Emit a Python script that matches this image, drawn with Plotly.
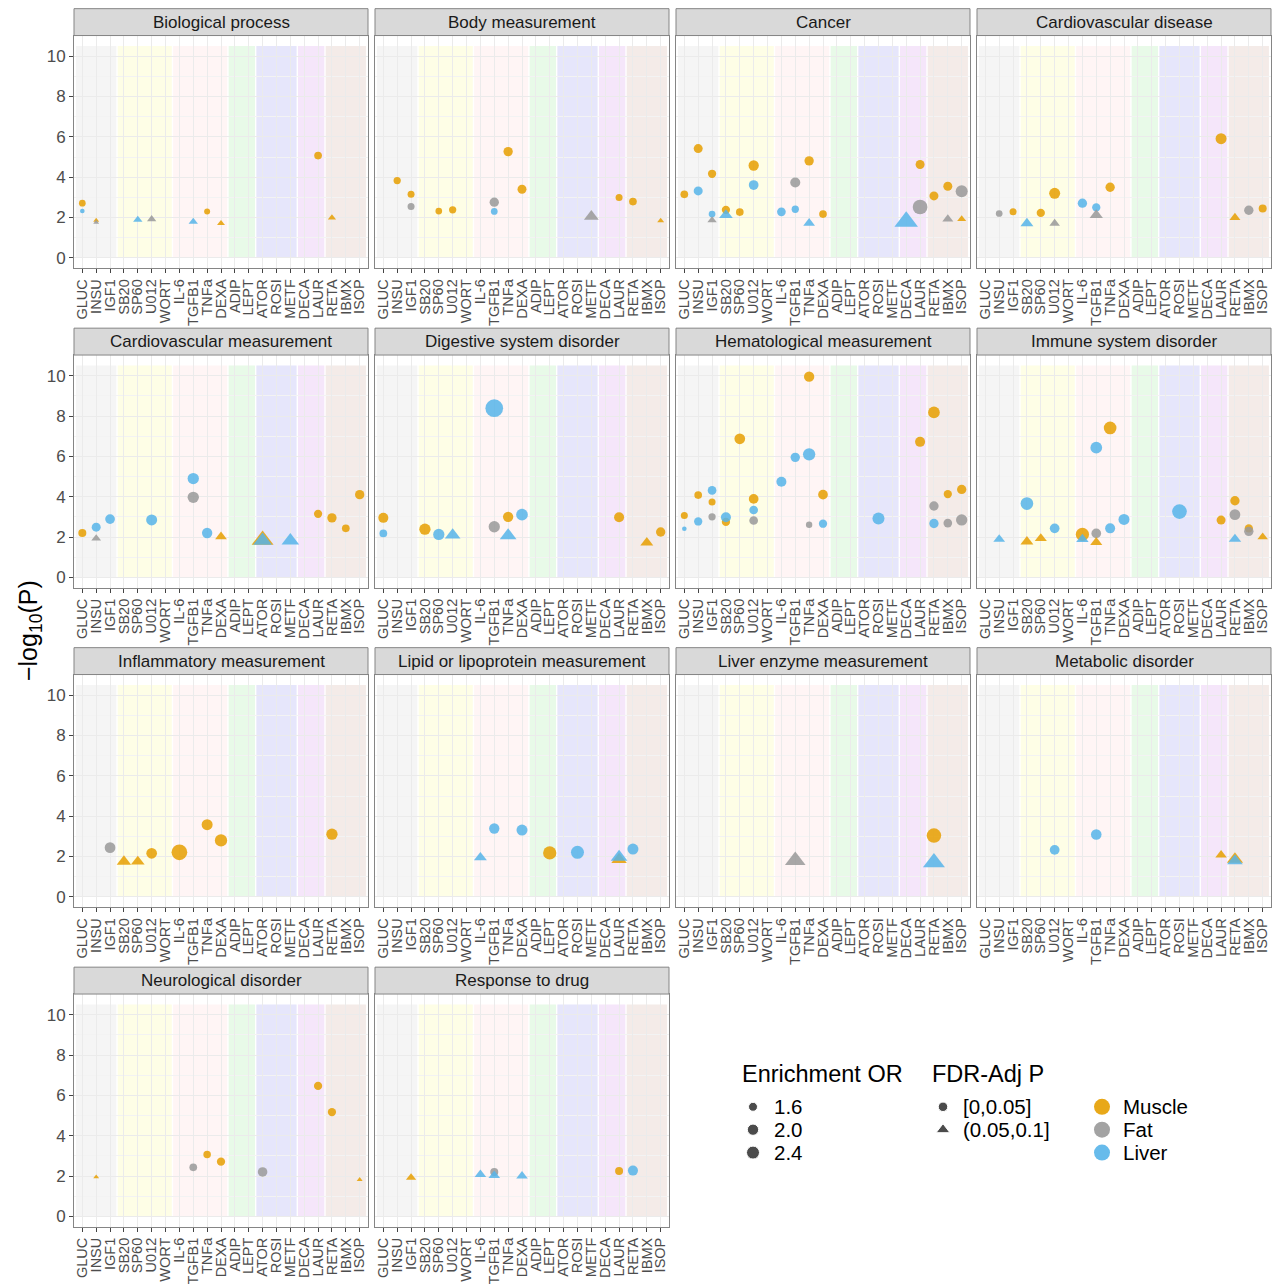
import math
import plotly.graph_objects as go

W, H = 1278, 1284
SIG = "[0,0.05]"
SUG = "(0.05,0.1]"

# ---------------- data ----------------
drugs = ["GLUC", "INSU", "IGF1", "SB20", "SP60", "U012", "WORT", "IL-6", "TGFB1", "TNFa",
         "DEXA", "ADIP", "LEPT", "ATOR", "ROSI", "METF", "DECA", "LAUR", "RETA", "IBMX", "ISOP"]
drug_groups = [("GLUC", "IGF1"), ("SB20", "WORT"), ("IL-6", "DEXA"), ("ADIP", "LEPT"),
               ("ATOR", "METF"), ("DECA", "LAUR"), ("RETA", "ISOP")]
group_fill = ["#f5f5f5", "#fefee6", "#fff5f5", "#e8fae8", "#e6e6fb", "#f5e6fa", "#f4ebe8"]

tissues = ["Muscle", "Fat", "Liver"]
tissue_colors = ["#E69F00", "#999999", "#56B4E9"]
fdr_levels = [SIG, SUG]
fdr_symbols = ["circle", "triangle-up"]
or_legend_values = [1.6, 2.0, 2.4]

panel_titles = ["Biological process", "Body measurement", "Cancer", "Cardiovascular disease",
                "Cardiovascular measurement", "Digestive system disorder", "Hematological measurement",
                "Immune system disorder", "Inflammatory measurement", "Lipid or lipoprotein measurement",
                "Liver enzyme measurement", "Metabolic disorder", "Neurological disorder", "Response to drug"]

# (drug, tissue, -log10(P), enrichment OR, FDR-adjusted P group)
biological_process = [
    ("GLUC", "Muscle", 2.71, 1.37, SIG), ("GLUC", "Liver", 2.32, 1.30, SIG),
    ("INSU", "Muscle", 1.86, 1.30, SUG), ("INSU", "Fat", 1.76, 1.30, SUG),
    ("SP60", "Liver", 1.89, 1.41, SUG), ("U012", "Fat", 1.92, 1.41, SUG),
    ("TGFB1", "Liver", 1.79, 1.41, SUG), ("TNFa", "Muscle", 2.30, 1.33, SIG),
    ("DEXA", "Muscle", 1.71, 1.34, SUG), ("LAUR", "Muscle", 5.07, 1.45, SIG),
    ("RETA", "Muscle", 1.99, 1.35, SUG),
]
body_measurement = [
    ("INSU", "Muscle", 3.83, 1.41, SIG), ("IGF1", "Muscle", 3.15, 1.39, SIG),
    ("IGF1", "Fat", 2.55, 1.39, SIG), ("SP60", "Muscle", 2.32, 1.37, SIG),
    ("U012", "Muscle", 2.38, 1.41, SIG), ("TGFB1", "Fat", 2.76, 1.65, SIG),
    ("TGFB1", "Liver", 2.30, 1.37, SIG), ("TNFa", "Muscle", 5.27, 1.65, SIG),
    ("DEXA", "Muscle", 3.40, 1.60, SIG), ("METF", "Fat", 2.05, 2.04, SUG),
    ("LAUR", "Muscle", 2.99, 1.39, SIG), ("RETA", "Muscle", 2.79, 1.45, SIG),
    ("ISOP", "Muscle", 1.84, 1.31, SUG),
]
cancer = [
    ("GLUC", "Muscle", 3.15, 1.45, SIG), ("INSU", "Muscle", 5.42, 1.60, SIG),
    ("INSU", "Liver", 3.32, 1.60, SIG), ("IGF1", "Muscle", 4.17, 1.51, SIG),
    ("IGF1", "Liver", 2.17, 1.37, SIG), ("IGF1", "Fat", 1.86, 1.41, SUG),
    ("SB20", "Muscle", 2.38, 1.51, SIG), ("SB20", "Liver", 2.12, 1.86, SUG),
    ("SP60", "Muscle", 2.27, 1.45, SIG), ("U012", "Muscle", 4.58, 1.81, SIG),
    ("U012", "Liver", 3.61, 1.71, SIG), ("IL-6", "Liver", 2.28, 1.56, SIG),
    ("TGFB1", "Fat", 3.74, 1.76, SIG), ("TGFB1", "Liver", 2.41, 1.41, SIG),
    ("TNFa", "Muscle", 4.81, 1.65, SIG), ("TNFa", "Liver", 1.72, 1.62, SUG),
    ("DEXA", "Muscle", 2.17, 1.45, SIG), ("DECA", "Liver", 1.80, 4.19, SUG),
    ("LAUR", "Muscle", 4.63, 1.60, SIG), ("LAUR", "Fat", 2.52, 2.89, SIG),
    ("RETA", "Muscle", 3.07, 1.60, SIG), ("IBMX", "Muscle", 3.55, 1.60, SIG),
    ("IBMX", "Fat", 1.92, 1.54, SUG), ("ISOP", "Fat", 3.30, 2.16, SIG),
    ("ISOP", "Muscle", 1.92, 1.39, SUG),
]
cardiovascular_disease = [
    ("INSU", "Fat", 2.20, 1.37, SIG), ("IGF1", "Muscle", 2.28, 1.39, SIG),
    ("SB20", "Liver", 1.71, 1.76, SUG), ("SP60", "Muscle", 2.23, 1.51, SIG),
    ("U012", "Muscle", 3.20, 1.94, SIG), ("U012", "Fat", 1.71, 1.50, SUG),
    ("IL-6", "Liver", 2.71, 1.65, SIG), ("TGFB1", "Liver", 2.50, 1.51, SIG),
    ("TGFB1", "Fat", 2.12, 1.81, SUG), ("TNFa", "Muscle", 3.50, 1.65, SIG),
    ("LAUR", "Muscle", 5.91, 1.94, SIG), ("RETA", "Muscle", 2.00, 1.54, SUG),
    ("IBMX", "Fat", 2.36, 1.65, SIG), ("ISOP", "Muscle", 2.45, 1.48, SIG),
]
cardiovascular_measurement = [
    ("GLUC", "Muscle", 2.20, 1.48, SIG), ("INSU", "Liver", 2.49, 1.60, SIG),
    ("INSU", "Fat", 1.93, 1.44, SUG), ("IGF1", "Liver", 2.89, 1.71, SIG),
    ("U012", "Liver", 2.85, 1.94, SIG), ("TGFB1", "Liver", 4.90, 2.00, SIG),
    ("TGFB1", "Fat", 3.97, 2.00, SIG), ("TNFa", "Liver", 2.20, 1.81, SIG),
    ("DEXA", "Muscle", 2.02, 1.62, SUG), ("ATOR", "Muscle", 1.85, 3.70, SUG),
    ("ATOR", "Liver", 1.82, 2.83, SUG), ("METF", "Liver", 1.82, 2.57, SUG),
    ("LAUR", "Muscle", 3.15, 1.51, SIG), ("RETA", "Muscle", 2.95, 1.65, SIG),
    ("IBMX", "Muscle", 2.43, 1.45, SIG), ("ISOP", "Muscle", 4.10, 1.65, SIG),
]
digestive_system_disorder = [
    ("GLUC", "Muscle", 2.95, 1.76, SIG), ("GLUC", "Liver", 2.18, 1.45, SIG),
    ("SB20", "Muscle", 2.39, 2.00, SIG), ("SP60", "Liver", 2.13, 2.00, SIG),
    ("U012", "Liver", 2.10, 2.18, SUG), ("TGFB1", "Fat", 2.51, 2.00, SIG),
    ("TGFB1", "Liver", 8.39, 3.98, SIG), ("TNFa", "Muscle", 3.00, 1.81, SIG),
    ("TNFa", "Liver", 2.07, 2.40, SUG), ("DEXA", "Liver", 3.11, 2.09, SIG),
    ("LAUR", "Muscle", 2.98, 1.76, SIG), ("IBMX", "Muscle", 1.72, 1.76, SUG),
    ("ISOP", "Muscle", 2.25, 1.65, SIG),
]
hematological_measurement = [
    ("GLUC", "Muscle", 3.07, 1.39, SIG), ("GLUC", "Liver", 2.41, 1.30, SIG),
    ("INSU", "Muscle", 4.08, 1.45, SIG), ("INSU", "Liver", 2.77, 1.51, SIG),
    ("IGF1", "Muscle", 3.74, 1.39, SIG), ("IGF1", "Fat", 3.00, 1.41, SIG),
    ("IGF1", "Liver", 4.31, 1.56, SIG), ("SB20", "Muscle", 2.75, 1.51, SIG),
    ("SB20", "Liver", 2.98, 1.76, SIG), ("SP60", "Muscle", 6.87, 1.88, SIG),
    ("U012", "Muscle", 3.89, 1.71, SIG), ("U012", "Fat", 2.82, 1.56, SIG),
    ("U012", "Liver", 3.34, 1.56, SIG), ("IL-6", "Liver", 4.74, 1.76, SIG),
    ("TGFB1", "Liver", 5.95, 1.65, SIG), ("TNFa", "Muscle", 9.95, 1.81, SIG),
    ("TNFa", "Fat", 2.61, 1.35, SIG), ("TNFa", "Liver", 6.10, 2.23, SIG),
    ("DEXA", "Muscle", 4.10, 1.71, SIG), ("DEXA", "Liver", 2.66, 1.51, SIG),
    ("ROSI", "Liver", 2.92, 2.16, SIG), ("LAUR", "Muscle", 6.72, 1.76, SIG),
    ("RETA", "Muscle", 8.18, 2.09, SIG), ("RETA", "Fat", 3.54, 1.65, SIG),
    ("RETA", "Liver", 2.67, 1.65, SIG), ("IBMX", "Muscle", 4.13, 1.51, SIG),
    ("IBMX", "Fat", 2.69, 1.56, SIG), ("ISOP", "Muscle", 4.36, 1.65, SIG),
    ("ISOP", "Fat", 2.85, 2.00, SIG),
]
immune_system_disorder = [
    ("INSU", "Liver", 1.89, 1.62, SUG), ("SB20", "Liver", 3.66, 2.32, SIG),
    ("SB20", "Muscle", 1.77, 1.76, SUG), ("SP60", "Muscle", 1.93, 1.66, SUG),
    ("U012", "Liver", 2.43, 1.71, SIG), ("IL-6", "Muscle", 2.13, 2.48, SIG),
    ("IL-6", "Liver", 1.89, 1.70, SUG), ("TGFB1", "Fat", 2.18, 1.71, SIG),
    ("TGFB1", "Liver", 6.43, 2.09, SIG), ("TGFB1", "Muscle", 1.74, 1.66, SUG),
    ("TNFa", "Muscle", 7.41, 2.32, SIG), ("TNFa", "Liver", 2.43, 1.76, SIG),
    ("DEXA", "Liver", 2.87, 1.94, SIG), ("ROSI", "Liver", 3.26, 2.89, SIG),
    ("LAUR", "Muscle", 2.84, 1.60, SIG), ("RETA", "Muscle", 3.80, 1.65, SIG),
    ("RETA", "Fat", 3.11, 1.88, SIG), ("RETA", "Liver", 1.90, 1.70, SUG),
    ("IBMX", "Muscle", 2.43, 1.51, SIG), ("IBMX", "Fat", 2.28, 1.65, SIG),
    ("ISOP", "Muscle", 2.00, 1.50, SUG),
]
inflammatory_measurement = [
    ("IGF1", "Fat", 2.44, 1.88, SIG), ("SB20", "Muscle", 1.75, 1.98, SUG),
    ("SP60", "Muscle", 1.75, 1.86, SUG), ("U012", "Muscle", 2.16, 1.88, SIG),
    ("IL-6", "Muscle", 2.21, 3.23, SIG), ("TNFa", "Muscle", 3.58, 1.94, SIG),
    ("DEXA", "Muscle", 2.80, 2.23, SIG), ("RETA", "Muscle", 3.11, 2.00, SIG),
]
lipid_or_lipoprotein_measurement = [
    ("IL-6", "Liver", 1.95, 1.76, SUG), ("TGFB1", "Liver", 3.39, 1.81, SIG),
    ("DEXA", "Liver", 3.31, 1.94, SIG), ("LEPT", "Muscle", 2.18, 2.48, SIG),
    ("ROSI", "Liver", 2.21, 2.40, SIG), ("LAUR", "Muscle", 1.85, 2.16, SUG),
    ("LAUR", "Liver", 1.97, 2.40, SUG), ("RETA", "Liver", 2.37, 1.94, SIG),
]
liver_enzyme_measurement = [
    ("TGFB1", "Fat", 1.80, 3.33, SUG), ("RETA", "Muscle", 3.04, 2.83, SIG),
    ("RETA", "Liver", 1.70, 3.70, SUG),
]
metabolic_disorder = [
    ("U012", "Liver", 2.33, 1.72, SIG), ("TGFB1", "Liver", 3.09, 1.86, SIG),
    ("LAUR", "Muscle", 2.08, 1.59, SUG), ("RETA", "Muscle", 1.86, 2.30, SUG),
    ("RETA", "Liver", 1.78, 2.20, SUG),
]
neurological_disorder = [
    ("INSU", "Muscle", 1.95, 1.30, SUG), ("TGFB1", "Fat", 2.43, 1.45, SIG),
    ("TNFa", "Muscle", 3.07, 1.43, SIG), ("DEXA", "Muscle", 2.71, 1.51, SIG),
    ("ATOR", "Fat", 2.20, 1.68, SIG), ("LAUR", "Muscle", 6.47, 1.51, SIG),
    ("RETA", "Muscle", 5.17, 1.51, SIG), ("ISOP", "Muscle", 1.82, 1.30, SUG),
]
response_to_drug = [
    ("IGF1", "Muscle", 1.92, 1.48, SUG), ("IL-6", "Liver", 2.07, 1.60, SUG),
    ("TGFB1", "Fat", 2.20, 1.48, SIG), ("TGFB1", "Liver", 2.03, 1.60, SUG),
    ("DEXA", "Liver", 2.00, 1.60, SUG), ("LAUR", "Muscle", 2.25, 1.48, SIG),
    ("RETA", "Liver", 2.27, 1.76, SIG),
]

panel_data = [biological_process, body_measurement, cancer, cardiovascular_disease,
              cardiovascular_measurement, digestive_system_disorder, hematological_measurement,
              immune_system_disorder, inflammatory_measurement, lipid_or_lipoprotein_measurement,
              liver_enzyme_measurement, metabolic_disorder, neurological_disorder, response_to_drug]


# ---------------- scales / geometry ----------------
def or_to_px(v, sym="circle"):
    d = 4.6 + 8.0 * math.sqrt(max(v - 1.3, 0.0))
    return d * (1.12 if sym == "triangle-up" else 1.0)


COL_X = [74, 375, 676, 977]
PANEL_W = 294
ROW_TOP = [35.7, 356.7, 677.7, 998.7]
PANEL_H = 234
STRIP_H = 27
XR = [-0.6, 20.6]
YR = [-0.525, 11.025]
FONT = "Liberation Sans, Arial, sans-serif"
BORDER = "#858585"
GRID = "#ebebeb"

fig = go.Figure()
shapes = []
annotations = []
layout_axes = {}

for i, (title, rows) in enumerate(zip(panel_titles, panel_data)):
    r, c = divmod(i, 4)
    k = i + 1
    xname = "x" if k == 1 else f"x{k}"
    yname = "y" if k == 1 else f"y{k}"
    xkey = "xaxis" if k == 1 else f"xaxis{k}"
    ykey = "yaxis" if k == 1 else f"yaxis{k}"
    top = ROW_TOP[r]
    x0p, x1p = COL_X[c] / W, (COL_X[c] + PANEL_W) / W
    y0p, y1p = 1 - (top + PANEL_H) / H, 1 - top / H

    layout_axes[xkey] = dict(
        domain=[x0p, x1p], anchor=yname, range=XR, tickmode="array",
        tickvals=list(range(len(drugs))), ticktext=drugs, tickangle=-90,
        tickfont=dict(size=14.5, color="#4d4d4d", family=FONT),
        ticks="outside", ticklen=4, tickcolor="#444444", tickwidth=1,
        showgrid=True, gridcolor=GRID, gridwidth=1, zeroline=False,
        showline=True, mirror=True, linecolor=BORDER, linewidth=1, fixedrange=True)
    layout_axes[ykey] = dict(
        domain=[y0p, y1p], anchor=xname, range=YR, tickmode="array",
        tickvals=[0, 2, 4, 6, 8, 10], showticklabels=(c == 0),
        ticks="outside" if c == 0 else "", ticklen=4, tickcolor="#444444", tickwidth=1,
        tickfont=dict(size=17, color="#4d4d4d", family=FONT),
        showgrid=True, gridcolor=GRID, gridwidth=1, zeroline=False,
        minor=dict(tickmode="array", tickvals=[1, 3, 5, 7, 9], showgrid=True,
                   gridcolor="#f3f3f3", gridwidth=0.6),
        showline=True, mirror=True, linecolor=BORDER, linewidth=1, fixedrange=True)

    # background drug-group bands
    for (g0, g1), col in zip(drug_groups, group_fill):
        shapes.append(dict(type="rect", xref=xname, yref=yname,
                           x0=drugs.index(g0) - 0.45, x1=drugs.index(g1) + 0.45,
                           y0=0, y1=10.5, fillcolor=col, line=dict(width=0), layer="below"))

    # strip
    shapes.append(dict(type="rect", xref="paper", yref="paper", x0=x0p, x1=x1p,
                       y0=y1p, y1=1 - (top - STRIP_H) / H, fillcolor="#d9d9d9",
                       line=dict(color=BORDER, width=1), layer="above"))
    annotations.append(dict(x=(x0p + x1p) / 2, y=1 - (top - STRIP_H / 2) / H, xref="paper",
                            yref="paper", text=title, showarrow=False, xanchor="center",
                            yanchor="middle", font=dict(size=17, color="#1a1a1a", family=FONT)))

    # points: circles first, then triangles; Muscle, Fat, Liver
    for fdr, sym in zip(fdr_levels, fdr_symbols):
        for tis, tcol in zip(tissues, tissue_colors):
            pts = [p for p in rows if p[1] == tis and p[4] == fdr]
            if not pts:
                continue
            fig.add_trace(go.Scatter(
                x=[drugs.index(p[0]) for p in pts], y=[p[2] for p in pts],
                mode="markers", xaxis=xname, yaxis=yname, showlegend=False,
                name=f"{tis} {fdr}",
                marker=dict(symbol=sym, color=tcol, opacity=0.85,
                            size=[or_to_px(p[3], sym) for p in pts], line=dict(width=0)),
                hovertemplate=f"{title}<br>%{{text}}<br>-log10(P)=%{{y}}<extra>{tis}</extra>",
                text=[p[0] for p in pts]))

# y-axis title
annotations.append(dict(x=30 / W, y=1 - 634 / H, xref="paper", yref="paper",
                        text="\u2212log<sub>10</sub>(P)", textangle=-90, showarrow=False,
                        xanchor="center", yanchor="middle",
                        font=dict(size=25, color="#000000", family=FONT)))

# ---------------- legend (drawn on its own hidden axis, in pixel units) ----------------
LX0, LX1, LY0, LY1 = 730, 1270, 1055, 1175
layout_axes["xaxis15"] = dict(domain=[LX0 / W, LX1 / W], range=[LX0, LX1], visible=False,
                              anchor="y15", fixedrange=True)
layout_axes["yaxis15"] = dict(domain=[1 - LY1 / H, 1 - LY0 / H], range=[LY1, LY0],
                              visible=False, anchor="x15", fixedrange=True)
item_y = [1112, 1135, 1158]

fig.add_trace(go.Scatter(x=[753] * 3, y=item_y, mode="markers", xaxis="x15", yaxis="y15",
                         showlegend=False, hoverinfo="skip",
                         marker=dict(symbol="circle", color="black",
                                     size=[or_to_px(v) for v in or_legend_values])))
fig.add_trace(go.Scatter(x=[943, 943], y=item_y[:2], mode="markers", xaxis="x15", yaxis="y15",
                         showlegend=False, hoverinfo="skip",
                         marker=dict(symbol=fdr_symbols, color="black", size=[9.5, 12])))
fig.add_trace(go.Scatter(x=[1102] * 3, y=item_y, mode="markers", xaxis="x15", yaxis="y15",
                         showlegend=False, hoverinfo="skip",
                         marker=dict(symbol="circle", color=tissue_colors, size=16, opacity=0.9)))


def leg_text(x, y, t, size=20.5):
    annotations.append(dict(x=x / W, y=1 - y / H, xref="paper", yref="paper", text=t,
                            showarrow=False, xanchor="left", yanchor="middle",
                            font=dict(size=size, color="#000000", family=FONT)))


leg_text(740, 1079, "Enrichment OR", 23.5)
leg_text(930, 1079, "FDR-Adj P", 23.5)
for yy, v in zip(item_y, or_legend_values):
    leg_text(772, yy, f"{v:.1f}")
for yy, t in zip(item_y, fdr_levels):
    leg_text(961, yy, t)
for yy, t in zip(item_y, tissues):
    leg_text(1121, yy, t)

fig.update_layout(
    width=W, height=H, margin=dict(l=0, r=0, t=0, b=0),
    paper_bgcolor="white", plot_bgcolor="white", showlegend=False,
    font=dict(family=FONT), shapes=shapes, annotations=annotations, **layout_axes)

fig.write_html(
    "out.html",
    config={"displayModeBar": False},
    post_script="document.body.style.margin='0';document.body.style.padding='0';"
                "document.documentElement.style.overflow='hidden';")
